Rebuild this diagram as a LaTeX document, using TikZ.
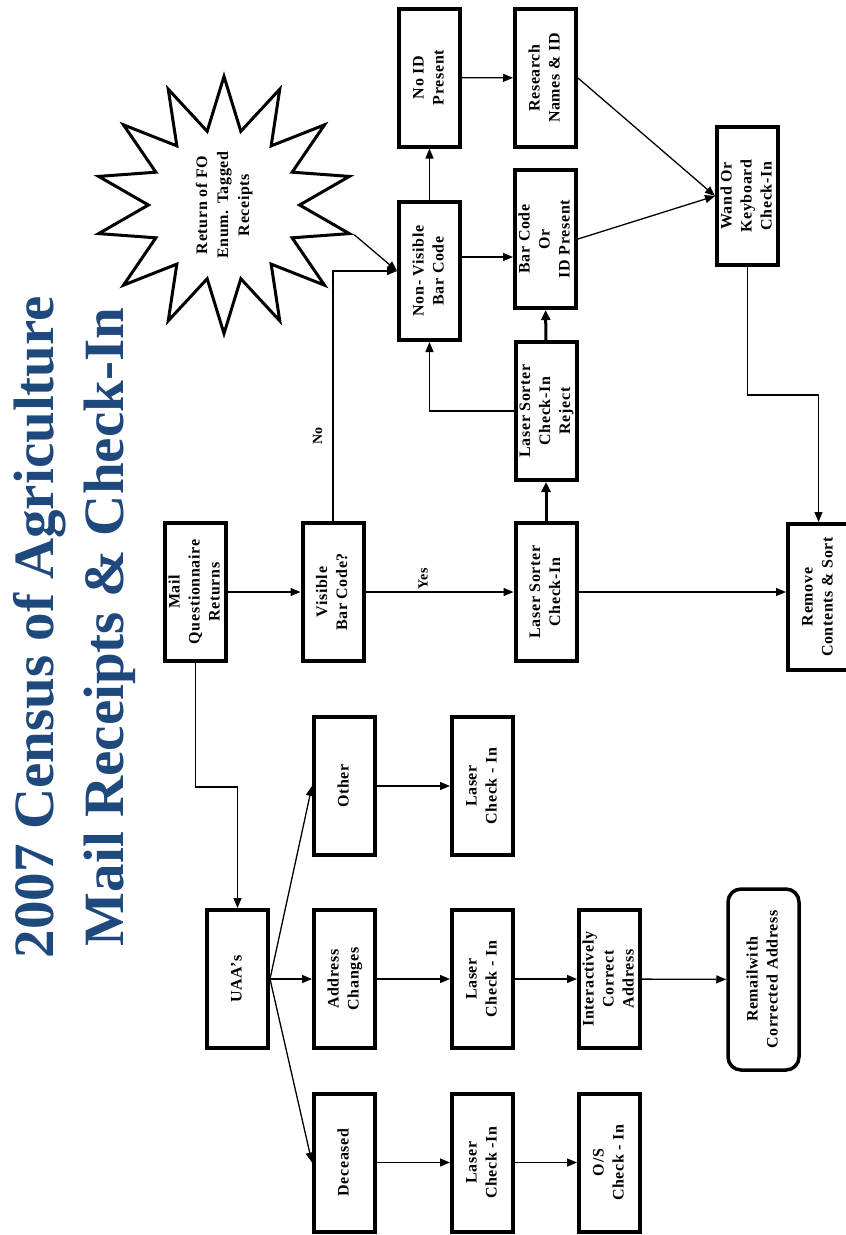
\documentclass[tikz,border=0pt]{standalone}
\usepackage{fontspec}
\setmainfont{Liberation Serif}[LetterSpace=4]
\newfontfamily\titlefont{Liberation Serif}
\usetikzlibrary{arrows.meta,shapes.geometric,positioning}
\definecolor{titleblue}{RGB}{31,73,125}
\newcommand{\uptext}[1]{\rotatebox{90}{\begin{tabular}{@{}c@{}}#1\end{tabular}}}

\begin{document}
\begin{tikzpicture}[x=1pt, y=-1pt,
  box/.style = {draw, line width=4pt, rectangle, minimum width=61pt, minimum height=138pt, inner sep=0pt, font=\fontsize{16}{20}\selectfont\bfseries},
  endbox/.style = {box, rounded corners=13pt, line width=3.5pt, minimum width=71pt, minimum height=181pt},
  flow/.style = {line width=1.3pt, -{Triangle[length=10pt,width=8pt]}},
  heavy/.style = {line width=3pt, -{Triangle[length=10pt,width=9pt]}},
  lbl/.style = {font=\fontsize{14}{16}\selectfont\bfseries, inner sep=2pt}]
\useasboundingbox (0,0) rectangle (846,1235);

% title
\node[rotate=90, align=center, text=titleblue, font=\titlefont\fontsize{57}{70}\selectfont\bfseries] (title) at (74,627) {2007 Census of Agriculture\\Mail Receipts \& Check-In};

% main line
\node[box] (mail) at (195.5,592) {\uptext{Mail\\Questionnaire\\Returns}};
\node[box] (visible) at (333,592) {\uptext{Visible\\Bar Code?}};
\node[box] (laser) at (546,592) {\uptext{Laser Sorter\\Check-In}};
\node[box, minimum height=146pt] (remove) at (818.5,597) {\uptext{Remove\\Contents \& Sort}};
\node[box] (reject) at (546,411) {\uptext{Laser Sorter\\Check-In\\Reject}};
\node[box] (nonvis) at (429.5,271) {\uptext{Non- Visible\\Bar Code}};
\node[box] (noid) at (429.5,77.5) {\uptext{No ID\\Present}};
\node[box] (research) at (545.5,78) {\uptext{Research\\Names \& ID}};
\node[box] (barcode) at (545.5,239) {\uptext{Bar Code\\Or\\ID Present}};
\node[box] (wand) at (747.5,196) {\uptext{Wand Or\\Keyboard\\Check-In}};
\node[draw, line width=3pt, star, star points=14, star point ratio=1.7, minimum size=222pt, inner sep=0pt, font=\fontsize{16}{21}\selectfont\bfseries] (burst) at (224,205) {\uptext{Return of FO\\Enum. Tagged\\Receipts}};

% UAA branch
\node[box] (uaa) at (237.5,979) {\uptext{UAA’s}};
\node[box] (other) at (344.5,786) {\uptext{Other}};
\node[box] (address) at (344.5,979) {\uptext{Address\\Changes}};
\node[box] (deceased) at (344.5,1162.5) {\uptext{Deceased}};
\node[box] (laserO) at (482.5,786) {\uptext{Laser\\Check - In}};
\node[box] (laserA) at (482.5,979) {\uptext{Laser\\Check - In}};
\node[box] (laserD) at (482.5,1162.5) {\uptext{Laser\\Check -In}};
\node[box] (interactive) at (609.5,979) {\uptext{Interactively\\Correct\\Address}};
\node[box] (os) at (609.5,1162.5) {\uptext{O/S\\Check - In}};
\node[endbox] (remail) at (763.5,979.5) {\uptext{Remailwith\\Corrected Address}};

\coordinate (nvb) at (0,257);
\coordinate (wr) at (0,395);
\coordinate (mu) at (0,787);

\draw[flow] (mail) -- (visible);
\draw[flow] (visible) -- node[lbl, above, pos=0.39] (yes) {\rotatebox{90}{Yes}} (laser);
\draw[flow] (visible.north) |- node[lbl, left=8pt, pos=0.17] (no) {\rotatebox{90}{No}} (nonvis.west);
\draw[flow] (laser.east) -- (laser.east -| remove.west);
\draw[heavy] (laser) -- (reject);
\draw[heavy] (reject) -- (barcode);
\draw[flow] (reject.west) -| (nonvis.south);
\draw[flow] (nonvis) -- (noid);
\draw[flow] (noid) -- (research);
\draw[flow] (nonvis.east |- nvb) -- (barcode.west |- nvb);
\draw[flow] (research.east) -- (wand.west);
\draw[flow] (barcode.east) -- (wand.west);
\draw[flow] (wand.south) -- (wand.south |- wr) -| (remove.north);
\draw[flow] (burst.outer point 11) -- (nonvis.west);

\draw[flow] (mail.south) -- (mail.south |- mu) -| (uaa.north);
\draw[flow] (uaa) -- (address);
\draw[flow] (uaa.east) -- (other.west);
\draw[flow] (uaa.east) -- (deceased.west);
\draw[flow] (other) -- (laserO);
\draw[flow] (address) -- (laserA);
\draw[flow] (laserA) -- (interactive);
\draw[flow] (interactive) -- (remail);
\draw[flow] (deceased) -- (laserD);
\draw[flow] (laserD) -- (os);
\end{tikzpicture}
\end{document}
